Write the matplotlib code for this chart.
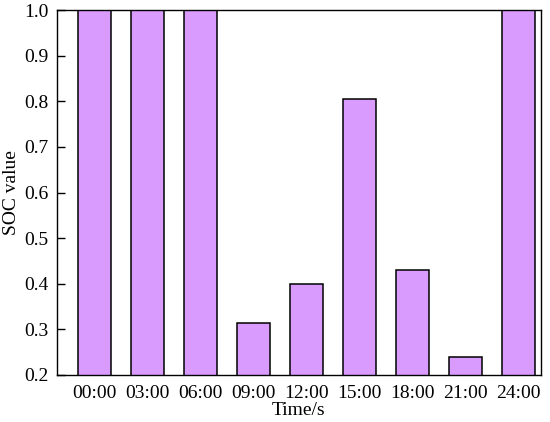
import matplotlib
matplotlib.use("Agg")
import matplotlib.pyplot as plt
import numpy as np

plt.rc("font", family="Liberation Serif", size=14)

times = ["00:00", "03:00", "06:00", "09:00", "12:00", "15:00", "18:00", "21:00", "24:00"]
soc = [1.0, 1.0, 1.0, 0.315, 0.40, 0.805, 0.43, 0.24, 1.0]

fill = "#DA9BFF"

fig = plt.figure(figsize=(5.5, 4.22), dpi=100)
ax = fig.add_axes([0.1036, 0.1114, 0.88, 0.8646])

x = np.arange(len(times))
ax.bar(x, soc, width=0.62, color=fill, edgecolor="black", linewidth=1.1)

ax.set_ylim(0.2, 1.0)
ax.set_xlim(-0.7, 8.43)
ticks = np.arange(0.2, 1.01, 0.1)
ax.set_yticks(ticks)
ax.set_yticklabels([f"{v:.1f}" for v in ticks])
ax.set_xticks(x)
ax.set_xticklabels(times)
ax.tick_params(axis="y", direction="in", length=6, width=1, right=False, pad=6)
ax.tick_params(axis="x", length=0, pad=7)
for s in ax.spines.values():
    s.set_linewidth(1.0)

ax.set_xlabel("Time/s", labelpad=0)
ax.set_ylabel("SOC value", labelpad=3)

fig.savefig("out.png", dpi=100)
